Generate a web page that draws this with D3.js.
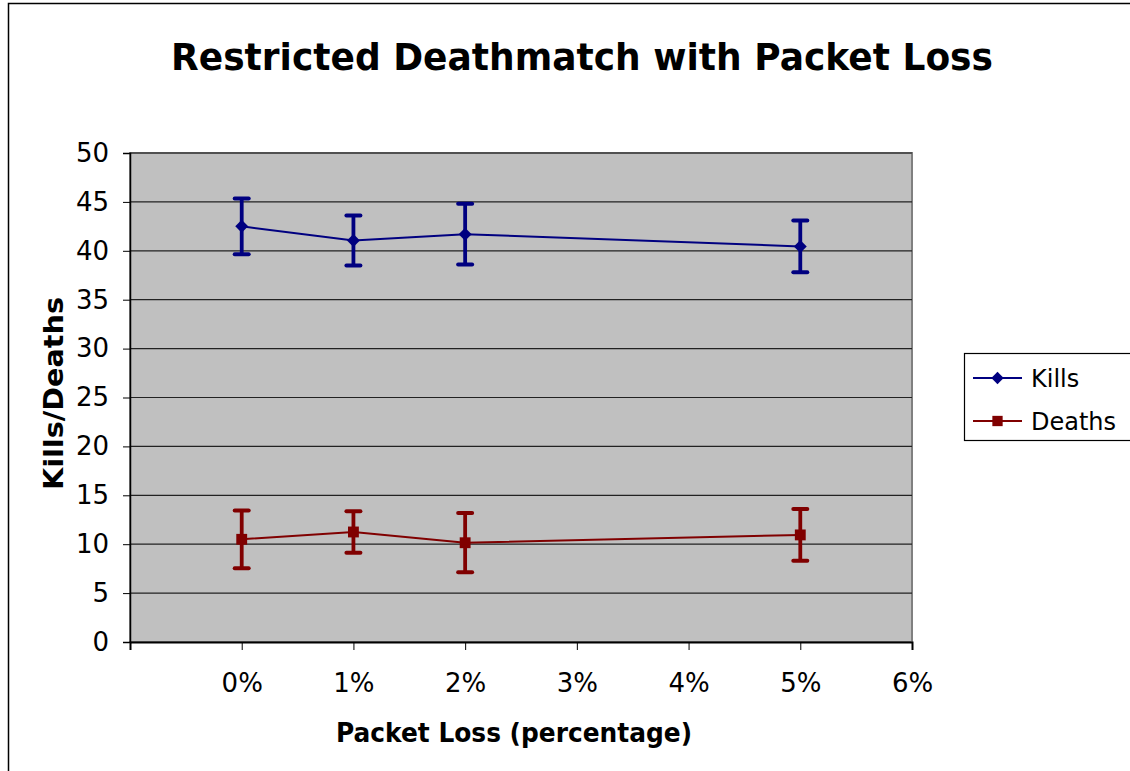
<!DOCTYPE html>
<html><head><meta charset="utf-8">
<script src="https://cdn.jsdelivr.net/npm/d3@7"></script>
<style>body{margin:0;background:#fff}svg{display:block}</style>
</head><body>
<svg id="c" width="1130" height="771"></svg>
<script>
const packetLoss = [0, 1, 2, 5];
const killsMean = [42.5, 41.05, 41.7, 40.45];
const killsErr = [2.85, 2.55, 3.1, 2.65];
const deathsMean = [10.5, 11.25, 10.15, 10.95];
const deathsErr = [2.95, 2.12, 3.03, 2.65];
const xTicks = [-1, 0, 1, 2, 3, 4, 5, 6];
const xTickLabels = ["", "0%", "1%", "2%", "3%", "4%", "5%", "6%"];
const yTicks = [0, 5, 10, 15, 20, 25, 30, 35, 40, 45, 50];
const seriesNames = ["Kills", "Deaths"];
const seriesColors = ["#000080", "#800000"];

const svg = d3.select("#c");
const font = "DejaVu Sans, Verdana, sans-serif";

// outer frame
svg.append("rect").attr("x", 8.5).attr("y", 3.5).attr("width", 1140).attr("height", 800)
  .attr("fill", "#fff").attr("stroke", "#000").attr("stroke-width", 1.5);

const L = 130, R = 912, T = 153, B = 642;
const x = d3.scaleLinear().domain([-1, 6]).range([L, R]);
const y = d3.scaleLinear().domain([0, 50]).range([B, T]);

svg.append("rect").attr("x", L).attr("y", T).attr("width", R - L).attr("height", B - T)
  .attr("fill", "#c0c0c0").attr("stroke", "#808080").attr("stroke-width", 2);

// grid
svg.append("g").selectAll("line").data(yTicks.filter(d => d > 0)).join("line")
  .attr("x1", L).attr("x2", R).attr("y1", d => y(d)).attr("y2", d => y(d))
  .attr("stroke", "#222").attr("stroke-width", 1.2);

// axes
const yAxis = svg.append("g").attr("transform", `translate(${L},0)`)
  .call(d3.axisLeft(y).tickValues(yTicks).tickSize(7).tickPadding(14));
yAxis.select(".domain").attr("stroke", "#000").attr("stroke-width", 1.5);
yAxis.selectAll("text").attr("font-family", font).attr("font-size", 26).attr("fill", "#000");

const xAxis = svg.append("g").attr("transform", `translate(0,${B})`)
  .call(d3.axisBottom(x).tickValues(xTicks).tickFormat((d, i) => xTickLabels[i]).tickSize(8).tickPadding(24));
xAxis.select(".domain").attr("stroke", "#000").attr("stroke-width", 2);
xAxis.selectAll("text").attr("font-family", font).attr("font-size", 26).attr("fill", "#000");

// series
const series = [
  {name: seriesNames[0], mean: killsMean, err: killsErr, color: seriesColors[0], sym: d3.symbolSquare, size: 84, rot: 45},
  {name: seriesNames[1], mean: deathsMean, err: deathsErr, color: seriesColors[1], sym: d3.symbolSquare, size: 118, rot: 0}
];
series.forEach(s => {
  const pts = packetLoss.map((p, i) => ({p, m: s.mean[i], e: s.err[i]}));
  const g = svg.append("g");
  g.selectAll(".eb").data(pts).join("line")
    .attr("x1", d => x(d.p)).attr("x2", d => x(d.p))
    .attr("y1", d => y(d.m + d.e)).attr("y2", d => y(d.m - d.e))
    .attr("stroke", s.color).attr("stroke-width", 3.8);
  [1, -1].forEach(sg => {
    g.selectAll(null).data(pts).join("line")
      .attr("x1", d => x(d.p) - 7).attr("x2", d => x(d.p) + 7)
      .attr("y1", d => y(d.m + sg * d.e)).attr("y2", d => y(d.m + sg * d.e))
      .attr("stroke", s.color).attr("stroke-width", 4).attr("stroke-linecap", "round");
  });
  g.append("path").datum(pts)
    .attr("d", d3.line().x(d => x(d.p)).y(d => y(d.m)))
    .attr("fill", "none").attr("stroke", s.color).attr("stroke-width", 2);
  g.selectAll(".mk").data(pts).join("path")
    .attr("transform", d => `translate(${x(d.p)},${y(d.m)}) rotate(${s.rot})`)
    .attr("d", d3.symbol().type(s.sym).size(s.size)).attr("fill", s.color);
});

// legend
const lg = svg.append("g");
lg.append("rect").attr("x", 964.5).attr("y", 353.5).attr("width", 170).attr("height", 87)
  .attr("fill", "#fff").attr("stroke", "#000").attr("stroke-width", 1.2);
series.forEach((s, i) => {
  const yy = 378 + i * 43;
  lg.append("line").attr("x1", 973).attr("x2", 1022).attr("y1", yy).attr("y2", yy)
    .attr("stroke", s.color).attr("stroke-width", 2);
  lg.append("path").attr("transform", `translate(997.5,${yy}) rotate(${s.rot})`)
    .attr("d", d3.symbol().type(s.sym).size(s.size * 0.9)).attr("fill", s.color);
  lg.append("text").attr("x", 1031).attr("y", yy + 9).text(s.name)
    .attr("font-family", font).attr("font-size", 24).attr("fill", "#000");
});

// titles
svg.append("text").attr("x", 582).attr("y", 70).attr("text-anchor", "middle")
  .attr("font-family", font).attr("font-weight", "bold").attr("font-size", 38)
  .attr("textLength", 822).attr("lengthAdjust", "spacingAndGlyphs")
  .text("Restricted Deathmatch with Packet Loss");
svg.append("text").attr("x", 514).attr("y", 742).attr("text-anchor", "middle")
  .attr("font-family", font).attr("font-weight", "bold").attr("font-size", 27)
  .attr("textLength", 356).attr("lengthAdjust", "spacingAndGlyphs")
  .text("Packet Loss (percentage)");
svg.append("text").attr("transform", "translate(63,393.5) rotate(-90)").attr("text-anchor", "middle")
  .attr("font-family", font).attr("font-weight", "bold").attr("font-size", 27)
  .attr("textLength", 193).attr("lengthAdjust", "spacingAndGlyphs")
  .text("Kills/Deaths");
</script>
</body></html>
